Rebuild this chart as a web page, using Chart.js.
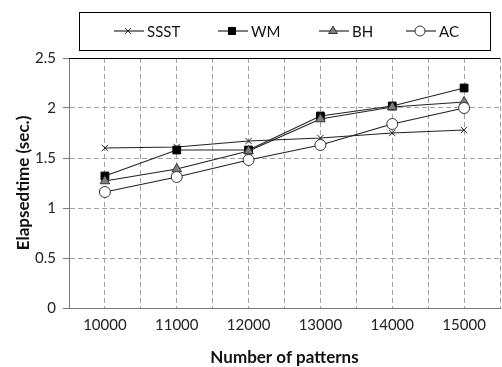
<!DOCTYPE html>
<html>
<head>
<meta charset="utf-8">
<script src="https://cdn.jsdelivr.net/npm/chart.js@4.4.0/dist/chart.umd.min.js"></script>
<style>
  html, body { margin: 0; padding: 0; background: #fff; overflow: hidden; }
  #wrap { position: relative; width: 508px; height: 367px; }
</style>
</head>
<body>
<div id="wrap"><canvas id="myChart" width="508" height="367"></canvas></div>
<script>
let patrones = [10000, 11000, 12000, 13000, 14000, 15000];
let nombres = ['SSST', 'WM', 'BH', 'AC'];
let ssst = [1.60, 1.61, 1.67, 1.70, 1.75, 1.78];
let wm = [1.32, 1.58, 1.58, 1.92, 2.02, 2.20];
let bh = [1.27, 1.39, 1.57, 1.89, 2.01, 2.06];
let ac = [1.16, 1.31, 1.48, 1.63, 1.84, 2.00];
let yTicks = [0, 0.5, 1, 1.5, 2, 2.5];

let fuente = "Lato, 'Open Sans', sans-serif";

function puntos(valores) {
    return valores.map((v, i) => ({ x: patrones[i], y: v }));
}

let estilos = [
    { pointStyle: 'crossRot', radius: 4.5, bg: '#000', border: '#222', order: 4 },
    { pointStyle: 'rect', radius: 5.5, bg: '#000', border: '#000', order: 3 },
    { pointStyle: 'triangle', radius: 5.5, bg: '#808080', border: '#333', order: 2 },
    { pointStyle: 'circle', radius: 5.5, bg: '#fff', border: '#333', order: 1 }
];
let series = [ssst, wm, bh, ac];

// leyenda con recuadro, dibujada a mano
const leyendaCaja = {
    id: 'leyendaCaja',
    afterDraw(chart) {
        const ctx = chart.ctx;
        ctx.save();
        ctx.strokeStyle = '#000';
        ctx.lineWidth = 1;
        ctx.strokeRect(79.5, 12.5, 411, 38);
        let xs = [128, 232, 333, 420];
        let cy = 31;
        nombres.forEach((n, i) => {
            let e = estilos[i];
            ctx.strokeStyle = '#000';
            ctx.lineWidth = 1;
            ctx.beginPath();
            ctx.moveTo(xs[i] - 14, cy);
            ctx.lineTo(xs[i] + 16, cy);
            ctx.stroke();
            ctx.fillStyle = e.bg;
            ctx.strokeStyle = e.border;
            Chart.helpers.drawPoint(ctx, { pointStyle: e.pointStyle, radius: e.radius - 0.5, borderWidth: 1 }, xs[i], cy);
            ctx.fillStyle = '#111';
            ctx.font = '15px ' + fuente;
            ctx.textBaseline = 'middle';
            ctx.fillText(n, xs[i] + 19, cy + 1);
        });
        // borde superior del área
        const a = chart.chartArea;
        ctx.strokeStyle = '#000';
        ctx.beginPath();
        ctx.moveTo(a.left, Math.round(a.top) + 0.5);
        ctx.lineTo(a.right, Math.round(a.top) + 0.5);
        ctx.stroke();
        ctx.restore();
    }
};

let ctx = document.getElementById('myChart').getContext('2d');
let myChart = new Chart(ctx, {
    type: 'line',
    data: {
        datasets: series.map((s, i) => ({
            label: nombres[i],
            data: puntos(s),
            borderColor: '#222',
            borderWidth: 1.2,
            pointStyle: estilos[i].pointStyle,
            pointRadius: estilos[i].radius,
            pointBackgroundColor: estilos[i].bg,
            pointBorderColor: estilos[i].border,
            pointBorderWidth: 1,
            order: estilos[i].order,
            tension: 0
        }))
    },
    options: {
        responsive: false,
        animation: false,
        layout: { padding: { top: 58, right: 2, left: 0, bottom: 0 } },
        plugins: { legend: { display: false }, tooltip: { enabled: false } },
        scales: {
            x: {
                type: 'linear',
                min: 9500,
                max: 15500,
                afterBuildTicks: (scale) => {
                    let t = [];
                    for (let v = 9500; v <= 15500; v += 500) t.push({ value: v });
                    scale.ticks = t;
                },
                afterFit: (scale) => { scale.height = 59; },
                ticks: {
                    autoSkip: false,
                    maxRotation: 0,
                    padding: 8,
                    color: '#222',
                    font: { family: fuente, size: 15 },
                    callback: (v) => patrones.includes(v) ? String(v) : ''
                },
                grid: {
                    color: (c) => c.index === 0 ? 'rgba(0,0,0,0)' : '#a0a0a0',
                    drawTicks: false,
                    lineWidth: 1
                },
                border: { display: true, color: '#7a7a7a', dash: [5, 3] },
                title: {
                    display: true,
                    text: 'Number of patterns',
                    color: '#111',
                    font: { family: fuente, size: 17, weight: 'bold' },
                    padding: { top: 0, bottom: -1 }
                }
            },
            y: {
                min: 0,
                max: 2.5,
                afterBuildTicks: (scale) => { scale.ticks = yTicks.map(v => ({ value: v })); },
                afterFit: (scale) => { scale.width = 69; },
                ticks: {
                    padding: 7,
                    color: '#222',
                    font: { family: fuente, size: 15 },
                    callback: (v) => String(v)
                },
                grid: {
                    color: (c) => (c.tick.value === 0 || c.tick.value === 2.5) ? 'rgba(0,0,0,0)' : '#a0a0a0',
                    tickColor: '#7a7a7a',
                    tickLength: 6,
                    lineWidth: 1
                },
                border: { display: true, color: '#7a7a7a', dash: [5, 3] },
                title: {
                    display: true,
                    text: 'Elapsedtime (sec.)',
                    color: '#111',
                    font: { family: fuente, size: 17, weight: 'bold' },
                    padding: { top: 13, bottom: 0 }
                }
            }
        }
    },
    plugins: [leyendaCaja]
});
</script>
</body>
</html>
